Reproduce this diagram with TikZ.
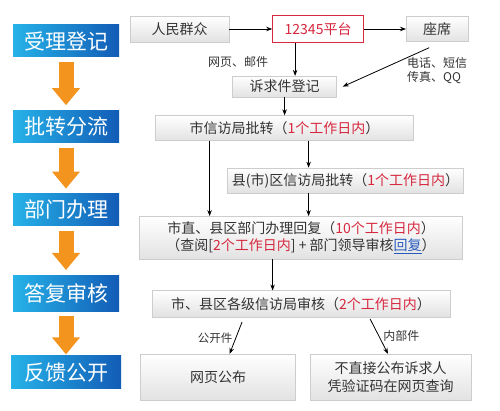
\documentclass[tikz,border=0pt]{standalone}
\usepackage{fontspec}
\setmainfont{Noto Sans CJK SC}
\usepackage{xcolor}
\usetikzlibrary{arrows.meta, positioning}
\definecolor{stagecyan}{RGB}{38, 178, 232}
\definecolor{stageblue}{RGB}{18, 92, 182}
\definecolor{flowgray}{RGB}{226, 226, 226}
\definecolor{edgegray}{RGB}{205, 205, 205}
\definecolor{timered}{RGB}{214, 40, 62}
\definecolor{linkblue}{RGB}{40, 90, 190}
\definecolor{fatorange}{RGB}{243, 148, 30}

\begin{document}
\begin{tikzpicture}[
    stage/.style={rectangle, left color=stagecyan, right color=stageblue, minimum width=106pt, minimum height=32pt, text=white, font=\fontsize{21pt}{24pt}\selectfont},
    box/.style={rectangle, draw=edgegray, top color=white, bottom color=flowgray, align=center, text=black!80, font=\fontsize{14pt}{17.5pt}\selectfont},
    platbox/.style={rectangle, draw=timered, line width=0.8pt, fill=white, text=timered, font=\fontsize{14pt}{17pt}\selectfont},
    lbl/.style={inner sep=1pt, align=left, text=black!80, font=\fontsize{12pt}{14pt}\selectfont},
    arrow/.style={-{Stealth[length=6pt, width=4.5pt]}, line width=0.8pt},
    fatarrow/.style={-{Triangle[length=17pt, width=27pt]}, line width=15pt, fatorange, shorten <=5pt, shorten >=5pt}
]
    \useasboundingbox (0,0) rectangle (500pt,-411pt);

    % Stages on the left
    \node[stage] (s1) at (66pt,-41pt) {受理登记};
    \node[stage, below=53pt of s1] (s2) {批转分流};
    \node[stage, below=51pt of s2] (s3) {部门办理};
    \node[stage, below=49pt of s3, minimum height=36pt] (s4) {答复审核};
    \node[stage, below=44pt of s4, minimum height=33pt, minimum width=110pt] (s5) {反馈公开};

    \draw[fatarrow] (s1) -- (s2);
    \draw[fatarrow] (s2) -- (s3);
    \draw[fatarrow] (s3) -- (s4);
    \draw[fatarrow, shorten >=1pt] (s4) -- (s5);

    % Intake
    \node[box, minimum width=99pt, minimum height=26pt] (people) at (179.5pt,-29pt) {人民群众};
    \node[platbox, minimum width=91pt, minimum height=27pt, right=43pt of people] (platform) {12345平台};
    \node[box, minimum width=62pt, minimum height=25pt, right=42pt of platform] (seat) {座席};
    \node[box, minimum width=104pt, minimum height=21pt, below=33pt of platform, xshift=-33.5pt] (reg) {诉求件登记};

    \node[lbl, below=13pt of people.south east, xshift=9pt] (webmail) {网页、邮件};
    \node[lbl, below=15pt of seat] (phone) {电话、短信\\传真、QQ};

    % Dispatch and handling
    \node[box, minimum width=258pt, minimum height=25pt, below=18pt of reg] (city) {市信访局批转（\textcolor{timered}{1个工作日内}）};
    \node[box, minimum width=236pt, minimum height=25pt, below=27pt of city, xshift=61pt] (county) {县(市)区信访局批转（\textcolor{timered}{1个工作日内}）};
    \node[box, minimum width=323pt, minimum height=43pt, below=23pt of county, xshift=-44.5pt] (dept) {市直、县区部门办理回复（\textcolor{timered}{10个工作日内}）\\（查阅[\textcolor{timered}{2个工作日内}] + 部门领导审核\textcolor{linkblue}{\underline{回复}}）};

    % Review and feedback
    \node[box, minimum width=298pt, minimum height=26pt, below=31pt of dept] (audit) {市、县区各级信访局审核（\textcolor{timered}{2个工作日内}）};
    \node[box, minimum width=155pt, minimum height=46pt, below=37pt of audit, xshift=-83pt] (pub) {网页公布};
    \node[box, minimum width=161pt, minimum height=46pt, right=14pt of pub] (internal) {不直接公布诉求人\\凭验证码在网页查询};

    % Arrows
    \draw[arrow] (people) -- (platform);
    \draw[arrow] (platform) -- (seat);
    \draw[arrow] ([xshift=-23pt]platform.south) -- ([xshift=-23pt]platform.south |- reg.north);
    \draw[arrow] ([xshift=-8pt, yshift=-6pt]seat.south) -- ([xshift=6pt]reg.east);
    \draw[arrow] (reg) -- (city);
    \draw[arrow] ([xshift=-75pt]city.south) -- ([xshift=-75pt]city.south |- dept.north);
    \draw[arrow] ([xshift=24pt]city.south) -- ([xshift=24pt]city.south |- county.north);
    \draw[arrow] ([xshift=-37pt]county.south) -- ([xshift=-37pt]county.south |- dept.north);
    \draw[arrow] ([xshift=-28.5pt]dept.south) -- ([xshift=-28.5pt]dept.south |- audit.north);
    \draw[arrow] ([xshift=-59pt, yshift=-5pt]audit.south) -- node[lbl, left=2pt, font=\fontsize{11.5pt}{14pt}\selectfont] {公开件} ([xshift=11.5pt]pub.north);
    \draw[arrow] ([xshift=69pt, yshift=-2pt]audit.south) -- node[lbl, right=3pt] {内部件} ([xshift=-2.5pt]internal.north);
\end{tikzpicture}
\end{document}
